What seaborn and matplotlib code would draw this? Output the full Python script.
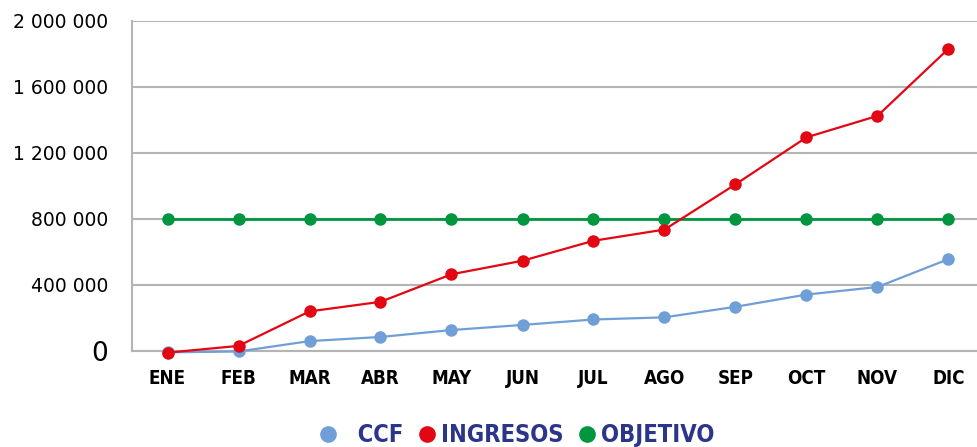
import numpy as np
import pandas as pd
import matplotlib
matplotlib.use('Agg')
import matplotlib.pyplot as plt
import seaborn as sns
from matplotlib.lines import Line2D

# datos
meses = ['ENE', 'FEB', 'MAR', 'ABR', 'MAY', 'JUN', 'JUL', 'AGO', 'SEP', 'OCT', 'NOV', 'DIC']
ccf = [-8000, -3000, 60000, 85000, 127000, 158000, 191000, 204000, 268000, 342000, 388000, 557000]
ingresos = [-10000, 31000, 240000, 298000, 465000, 547000, 668000, 736000, 1010000, 1295000, 1425000, 1832000]
objetivo = [800000] * 12
y_ticks = [0, 400000, 800000, 1200000, 1600000, 2000000]

series = ['CCF', 'INGRESOS', 'OBJETIVO']
colores = {'CCF': '#709FD7', 'INGRESOS': '#E30613', 'OBJETIVO': '#00963F'}
navy = '#2B3589'

sns.set_style('white')
plt.rcParams['font.family'] = ['DejaVu Sans']
cond = {'family': 'DejaVu Sans', 'stretch': 'condensed', 'weight': 'bold'}

df = pd.DataFrame({'mes': meses, 'CCF': ccf, 'INGRESOS': ingresos, 'OBJETIVO': objetivo})
df['x'] = np.arange(len(meses))
data = df.melt(id_vars=['mes', 'x'], value_vars=series, var_name='serie', value_name='valor')

fig = plt.figure(figsize=(9.77, 4.47), dpi=100)
ax = fig.add_axes([132 / 977, 96 / 447, 852 / 977, 330 / 447])

sns.lineplot(data=data, x='x', y='valor', hue='serie', hue_order=series, palette=colores,
             marker='o', markersize=9, markeredgewidth=0, linewidth=1.6, legend=False, ax=ax)
for ln, z in zip(ax.lines, [3, 5, 4]):
    ln.set_zorder(z)
    ln.set_clip_on(False)
ax.lines[2].set_linewidth(2.0)

ax.set_xlim(-0.5, len(meses) - 0.5)
ax.set_ylim(0, 2000000)
ax.set_xticks(df['x'])
ax.set_xticklabels(meses, fontsize=13.5, color='black', **cond)
ax.set_yticks(y_ticks)
ax.set_yticklabels([f'{v:,.0f}'.replace(',', ' ') for v in y_ticks], fontsize=13.5, color='black')
ax.get_yticklabels()[0].set_fontsize(19)
ax.tick_params(axis='x', length=0, pad=13)
ax.tick_params(axis='y', length=0, pad=17)
ax.set_xlabel('')
ax.set_ylabel('')

ax.grid(axis='y', color='#B4B4B4', linewidth=1.5)
ax.set_axisbelow(True)
for s in ['top', 'right']:
    ax.spines[s].set_visible(False)
for s in ['left', 'bottom']:
    ax.spines[s].set_color('#B4B4B4')
    ax.spines[s].set_linewidth(1.5)

handles = [Line2D([], [], linestyle='none', marker='o', markersize=12, markeredgewidth=0,
                  color=colores[s]) for s in series]
leg = fig.legend(handles, ['  CCF', 'INGRESOS', 'OBJETIVO'], loc='center', bbox_to_anchor=(0.53, 0.026),
                 ncol=3, frameon=False, handlelength=0.6, handletextpad=0.3, columnspacing=0.7,
                 prop={**cond, 'size': 17})
for t in leg.get_texts():
    t.set_color(navy)

fig.savefig('out.png', dpi=100)
